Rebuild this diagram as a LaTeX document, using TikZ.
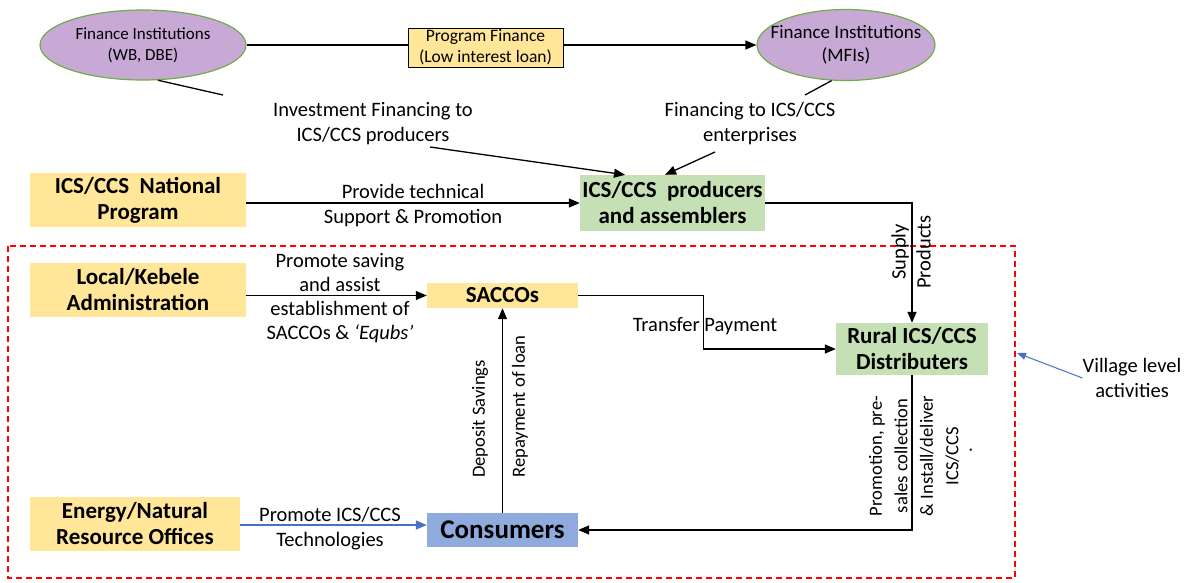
\documentclass[tikz,border=0pt]{standalone}
\usepackage{fontspec}
\setmainfont{Carlito}
\usetikzlibrary{shapes.geometric,arrows.meta}
\definecolor{boxyellow}{HTML}{FFE699}
\definecolor{boxgreen}{HTML}{C5E0B4}
\definecolor{boxblue}{HTML}{8FAADC}
\definecolor{lilac}{HTML}{C8A9D6}
\definecolor{rimgreen}{HTML}{70AD47}
\definecolor{linkblue}{HTML}{4472C4}
\definecolor{zonered}{HTML}{FF0000}

\begin{document}
\begin{tikzpicture}[x=1pt,y=-1pt,
  every node/.style={inner sep=0pt, align=center},
  inst/.style={ellipse, fill=lilac, draw=rimgreen, line width=1.2pt},
  actor/.style={fill=#1, font=\fontsize{23}{26}\selectfont\bfseries},
  lab/.style={font=\fontsize{20.5}{25}\selectfont},
  vlab/.style={font=\fontsize{18.6}{25}\selectfont, rotate=90},
  link/.style={line width=1.3pt},
  arr/.style={link, -{Triangle[length=11pt,width=9pt]}},
  bluearr/.style={arr, draw=linkblue},
  zone/.style={draw=zonered, line width=1.3pt, dash pattern=on 6pt off 4pt}
]
\useasboundingbox (0,0) rectangle (1200,582);

% village-level boundary
\draw[zone] (8,246) rectangle (1015,578);

% financing institutions (outline first, wording set on top)
\node[inst, minimum width=206pt, minimum height=70pt] (e1) at (143,45) {};
\node[font=\fontsize{17}{21}\selectfont] (e1text) at (e1) {Finance Institutions\\(WB, DBE)};
\node[inst, minimum width=178pt, minimum height=71pt] (e2) at (846,45) {};
\node[font=\fontsize{19}{23}\selectfont] (e2text) at (e2) {Finance Institutions\\(MFIs)};

% actors
\node[actor=boxyellow, minimum width=216pt, minimum height=54pt] (nat) at (138,200) {ICS/CCS\ \ National\\Program};
\node[actor=boxgreen, minimum width=185pt, minimum height=56pt] (prod) at (672.5,203) {ICS/CCS\ \ producers\\and assemblers};
\node[actor=boxyellow, minimum width=216pt, minimum height=54pt] (lk) at (138,290) {Local/Kebele\\Administration};
\node[actor=boxyellow, minimum width=151pt, minimum height=25pt] (sac) at (502.5,295.5) {SACCOs};
\node[actor=boxgreen, minimum width=152pt, minimum height=52pt] (rural) at (912,349) {Rural ICS/CCS\\Distributers};
\node[actor=boxblue, minimum width=151pt, minimum height=34pt,
      font=\fontsize{27}{30}\selectfont\bfseries] (cons) at (502.5,530) {Consumers};
\node[actor=boxyellow, minimum width=210pt, minimum height=54pt] (en) at (135,524) {Energy/Natural\\Resource Offices};

% connector labels
\node[lab] (invlab) at (373,124) {Investment Financing to\\ICS/CCS producers};
\node[lab] (enlab) at (750,124) {Financing to ICS/CCS\\enterprises};
\node[lab] (techlab) at (413,205.5) {Provide technical\\Support \& Promotion};
\node[lab, font=\fontsize{20.5}{24}\selectfont] (savlab) at (340,298.5) {Promote saving\\and assist\\establishment of\\SACCOs \& \textit{‘Equbs’}};
\node[lab] (paylab) at (705,326) {Transfer Payment};
\node[lab, rotate=90] (suplab) at (911,252) {Supply\\Products};
\node[vlab] (deplab) at (480,419) {Deposit Savings};
\node[vlab] (replab) at (520,406.5) {Repayment of loan};
\node[lab] (techno) at (330,528.5) {Promote ICS/CCS\\Technologies};
\node[vlab, font=\fontsize{18.6}{25.5}\selectfont] (promlab) at (914,456) {Promotion, pre-\\sales collection\\\& Install/deliver\\ICS/CCS};
\node[vlab] (promdot) at (971,450) {.};
\node[lab] (village) at (1132,378) {Village level\\activities};

% loose ends of the leader lines
\coordinate (invtop) at (223,95);
\coordinate (invbot) at (430,147);
\coordinate (entop) at (805,95);
\coordinate (enbot) at (715,152);
\coordinate (zoneedge) at (1017,353);

% program finance flow
\draw[arr] (e1.east) -- (e2.west);
\node[draw, line width=1pt, fill=boxyellow, minimum width=155pt, minimum height=39pt,
      font=\fontsize{17.5}{21}\selectfont] (pf) at (485.5,47.5) {Program Finance\\(Low interest loan)};

% investment financing
\draw[link] (e1.-67) -- (invtop);
\draw[arr] (invbot) -- ([xshift=-47.5pt]prod.north);
\draw[link] (e2.-112) -- (entop);
\draw[arr] (enbot) -- ([xshift=-7.5pt]prod.north);

% support and supply chain
\draw[arr] (nat.east |- prod.west) -- (prod.west);
\draw[arr] (prod.east) -| (rural.north);
\draw[arr] (lk.east |- sac.west) -- (sac.west);
\draw[arr] (sac.east) -- ++(125.5,0) |- (rural.west);
\draw[arr] (cons.north) -- (sac.south);
\draw[bluearr] (en.east |- 0,525) -- (cons.west |- 0,525);
\draw[arr] (rural.south) |- (cons.east);
\draw[link, linkblue, -{Triangle[length=9pt,width=7pt]}, line width=1pt] (village.west) -- (zoneedge);
\end{tikzpicture}
\end{document}
